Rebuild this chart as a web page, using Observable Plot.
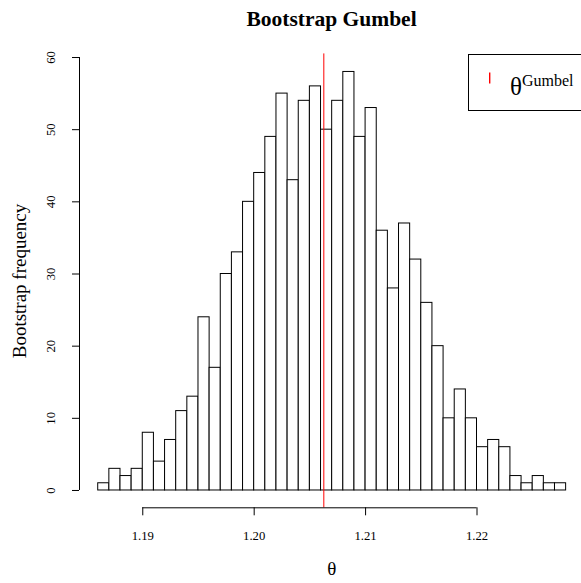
<!DOCTYPE html>
<html>
<head>
<meta charset="utf-8">
<script src="https://cdn.jsdelivr.net/npm/d3@7"></script>
<script src="https://cdn.jsdelivr.net/npm/@observablehq/plot@0.6"></script>
<style>
  html, body { margin: 0; padding: 0; background: #fff; }
  svg { display: block; }
</style>
</head>
<body>
<div id="chart"></div>
<script>
// ---- data ----
const binStart = 1.186;
const binWidth = 0.001;
const counts = [1, 3, 2, 3, 8, 4, 7, 11, 13, 24, 17, 30, 33, 40, 44, 49, 55, 43, 54, 56,
                50, 54, 58, 49, 53, 36, 28, 37, 32, 26, 20, 10, 14, 10, 6, 7, 6, 2, 1, 2, 1, 1];
const thetaGumbel = 1.20625;
const lineTop = 60.5;
const xTicks = [1.19, 1.20, 1.21, 1.22];
const yTicks = [0, 10, 20, 30, 40, 50, 60];
const titleText = "Bootstrap Gumbel";
const xLabel = "θ";
const yLabel = "Bootstrap frequency";
const legendMain = "θ";
const legendSup = "Gumbel";

const xDomain = [1.18432, 1.22938];
const yDomain = [-2.4, 62.4];

const bins = counts.map((c, i) => ({
  x1: +(binStart + i * binWidth).toFixed(4),
  x2: +(binStart + (i + 1) * binWidth).toFixed(4),
  count: c
}));

const font = "'Liberation Serif', 'Times New Roman', Times, serif";

const plot = Plot.plot({
  width: 581,
  height: 583,
  marginLeft: 79,
  marginRight: 0,
  marginTop: 39.7,
  marginBottom: 75.7,
  style: { fontFamily: font, background: "white", color: "black" },
  x: { domain: xDomain },
  y: { domain: yDomain },
  marks: [
    Plot.rectY(bins, { x1: "x1", x2: "x2", y1: 0, y2: "count", fill: "white", stroke: "black", strokeWidth: 1 }),
    Plot.ruleX([thetaGumbel], { y1: yDomain[0], y2: lineTop, stroke: "red", strokeWidth: 1 }),
    // y axis
    Plot.ruleX([xDomain[0]], { y1: yTicks[0], y2: yTicks[yTicks.length - 1], stroke: "black" }),
    Plot.axisY({ ticks: yTicks, tickSize: 7, tickFormat: () => "", label: null }),
    Plot.text(yTicks, { y: d => d, text: d => String(d), frameAnchor: "left", dx: -29, rotate: -90,
      textAnchor: "middle", lineAnchor: "middle", fontSize: 12.7, fill: "black" }),
    // x axis
    Plot.ruleY([yDomain[0]], { x1: xTicks[0], x2: xTicks[xTicks.length - 1], stroke: "black" }),
    Plot.axisX({ ticks: xTicks, tickSize: 8, tickPadding: 15, tickFormat: d3.format(".2f"), label: null, fontSize: 12.7 })
  ]
});

document.getElementById("chart").appendChild(plot);

const svg = d3.select(plot);

// title
svg.append("text")
  .attr("x", 331.5).attr("y", 26)
  .attr("text-anchor", "middle")
  .attr("font-family", font).attr("font-weight", "bold").attr("font-size", 21.5)
  .attr("fill", "black")
  .text(titleText);

// x label
svg.append("text")
  .attr("x", 331.7).attr("y", 575)
  .attr("text-anchor", "middle")
  .attr("font-family", font).attr("font-size", 19)
  .attr("fill", "black")
  .text(xLabel);

// y label
svg.append("text")
  .attr("transform", "translate(26, 281) rotate(-90)")
  .attr("text-anchor", "middle")
  .attr("font-family", font).attr("font-size", 19)
  .attr("fill", "black")
  .text(yLabel);

// legend
const lg = svg.append("g");
lg.append("rect")
  .attr("x", 468.5).attr("y", 54.5).attr("width", 140).attr("height", 56)
  .attr("fill", "white").attr("stroke", "black");
lg.append("rect")
  .attr("x", 489).attr("y", 72.5).attr("width", 1.4).attr("height", 11)
  .attr("fill", "#ff0000").attr("stroke", "none");
const lt = lg.append("text")
  .attr("x", 510).attr("y", 95)
  .attr("text-anchor", "start")
  .attr("font-family", font).attr("font-size", 25)
  .attr("fill", "black");
lt.append("tspan").text(legendMain);
lt.append("tspan").attr("font-size", 16).attr("dy", -9).text(legendSup);
</script>
</body>
</html>
